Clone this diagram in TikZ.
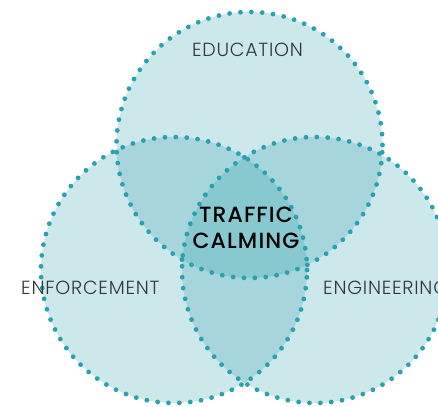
\documentclass[tikz,border=0pt]{standalone}
\usepackage{fontspec}
\setmainfont{Poppins Light}[LetterSpace=4]
\newfontfamily\medfont{Poppins Medium}[LetterSpace=5]
\definecolor{tealfill}{RGB}{28,151,164}
\definecolor{dotc}{RGB}{43,160,174}
\definecolor{labc}{RGB}{50,54,56}
\begin{document}
\begin{tikzpicture}[x=1pt,y=-1pt,
  ring/.style={circle, minimum size=266pt, inner sep=0pt, fill=tealfill, fill opacity=0.22},
  dotring/.style={draw=dotc, line width=4.8pt, line cap=round, dash pattern=on 0pt off 10.9pt},
  lab/.style={font=\fontsize{19}{20}\selectfont, text=labc, inner sep=0pt, anchor=center},
  core/.style={font=\medfont\fontsize{22}{26}\selectfont, text=black, inner sep=0pt, align=center}
  ]
\useasboundingbox (0,0) rectangle (438,406);
\clip (0,0) rectangle (438,406);
\node[ring] (edu) at (249.5,145) {};
\node[ring] (enf) at (174,270) {};
\node[ring] (eng) at (315,270) {};
\foreach \n in {edu,enf,eng} \draw[dotring] (\n.center) circle[radius=133pt];
\node[lab] (tedu) at (247.5,50) {EDUCATION};
\node[lab,anchor=west] (tenf) at (21,288) {ENFORCEMENT};
\node[lab,anchor=west] (teng) at (323,288) {ENGINEERING};
\node[core] (tc) at (246,228) {TRAFFIC\\CALMING};
\end{tikzpicture}
\end{document}
